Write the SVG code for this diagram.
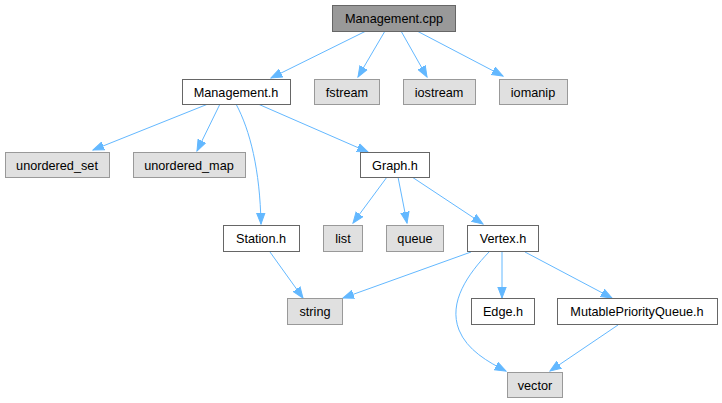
<svg xmlns="http://www.w3.org/2000/svg" width="722" height="403" viewBox="0 0 722 403">
<defs>
<style>
.n rect{stroke-width:1}
.w rect{fill:#ffffff;stroke:#666666}
.g rect{fill:#e0e0e0;stroke:#999999}
.m rect{fill:#999999;stroke:#666666}
text{font-family:"Liberation Sans",Arial,sans-serif;font-size:12.7px;fill:#000;text-anchor:middle}
.e path{fill:none;stroke:#63b8ff;stroke-width:1;marker-end:url(#ah)}
</style>
<marker id="ah" markerUnits="userSpaceOnUse" markerWidth="12" markerHeight="10" refX="11" refY="5" orient="auto" viewBox="0 0 12 10">
<path d="M0,0.8 L11,5 L0,9.2 z" fill="#63b8ff" stroke="#63b8ff" stroke-width="1"/>
</marker>
</defs>
<rect width="722" height="403" fill="#ffffff"/>
<g class="e" id="edges">
<path d="M366,31 L271,78"/>
<path d="M385,31 L358,77"/>
<path d="M401,31 L427,77"/>
<path d="M417,31 L503,76"/>
<path d="M208,104 L93,150"/>
<path d="M220,104 L197,151"/>
<path d="M236,104 C250,130 260,170 261,224"/>
<path d="M258,104 L368,152"/>
<path d="M387,177 L353,223"/>
<path d="M398,177 L407,223"/>
<path d="M412,177 L483,224"/>
<path d="M471,252 L343,298"/>
<path d="M489,252 C468,274 448,302 459,330 C467,350 488,362 506,371"/>
<path d="M502,252 L502,298"/>
<path d="M525,252 L612,298"/>
<path d="M618,325 L550,371"/>
<path d="M270,252 L303,298"/>
</g>
<g id="n_cpp" class="n m"><rect x="332.5" y="5.5" width="123" height="26"/><text x="394" y="22.5">Management.cpp</text></g>
<g id="n_mh" class="n w"><rect x="182.5" y="79.5" width="108" height="25"/><text x="236" y="96.5">Management.h</text></g>
<g id="n_fstream" class="n g"><rect x="314.5" y="79.5" width="65" height="25"/><text x="347" y="96.5">fstream</text></g>
<g id="n_iostream" class="n g"><rect x="403.5" y="79.5" width="72" height="25"/><text x="439" y="96.5">iostream</text></g>
<g id="n_iomanip" class="n g"><rect x="499.5" y="79.5" width="68" height="25"/><text x="533" y="96.5">iomanip</text></g>
<g id="n_uset" class="n g"><rect x="5.5" y="152.5" width="104" height="25"/><text x="57" y="169.5">unordered_set</text></g>
<g id="n_umap" class="n g"><rect x="133.5" y="152.5" width="112" height="25"/><text x="189" y="169.5">unordered_map</text></g>
<g id="n_graph" class="n w"><rect x="360.5" y="152.5" width="69" height="25"/><text x="395" y="169.5">Graph.h</text></g>
<g id="n_station" class="n w"><rect x="223.5" y="225.5" width="76" height="26"/><text x="261" y="242.5">Station.h</text></g>
<g id="n_list" class="n g"><rect x="323.5" y="225.5" width="39" height="26"/><text x="343" y="242.5">list</text></g>
<g id="n_queue" class="n g"><rect x="386.5" y="225.5" width="57" height="26"/><text x="415" y="242.5">queue</text></g>
<g id="n_vertex" class="n w"><rect x="467.5" y="225.5" width="71" height="26"/><text x="503" y="242.5">Vertex.h</text></g>
<g id="n_string" class="n g"><rect x="287.5" y="298.5" width="55" height="26"/><text x="315" y="315.5">string</text></g>
<g id="n_edge" class="n w"><rect x="471.5" y="298.5" width="63" height="26"/><text x="503" y="315.5">Edge.h</text></g>
<g id="n_mpq" class="n w"><rect x="557.5" y="298.5" width="160" height="26"/><text x="637" y="315.5">MutablePriorityQueue.h</text></g>
<g id="n_vector" class="n g"><rect x="507.5" y="372.5" width="55" height="25"/><text x="535" y="389.5">vector</text></g>
</svg>
